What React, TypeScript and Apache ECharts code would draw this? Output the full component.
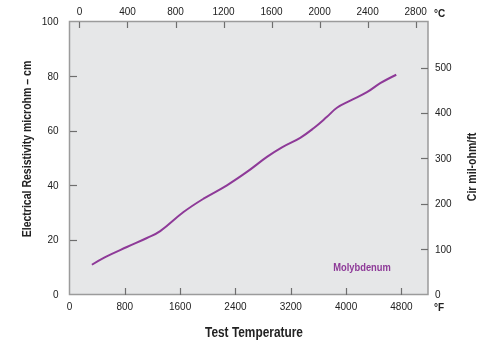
import React, { useEffect, useRef } from "react";
import * as echarts from "echarts";

const tempF = [324, 516, 830, 1120, 1312, 1649, 1939, 2277, 2566, 2856, 3073, 3337, 3530, 3724, 3868, 4061, 4302, 4494, 4726];
const resistivity = [10.9, 13.7, 17.4, 20.7, 23.2, 30.2, 35.1, 40.0, 44.9, 50.4, 53.9, 57.4, 60.9, 65.1, 68.4, 71.0, 74.1, 77.4, 80.5];
const fTicks = [0, 800, 1600, 2400, 3200, 4000, 4800];
const cTicks = [0, 400, 800, 1200, 1600, 2000, 2400, 2800];
const rTicks = [0, 20, 40, 60, 80, 100];
const cirTicks = [0, 100, 200, 300, 400, 500];
const F_MAX = 5185;
const C_MIN = -83;
const C_MAX = 2903;
const R_MAX = 100;
const CIR_MAX = 601.5;
const FONT = "'Liberation Sans', Arial, sans-serif";
const TICK_COLOR = "#6e6e6e";

export default function App() {
  const ref = useRef<HTMLDivElement>(null);
  useEffect(() => {
    const chart = echarts.init(ref.current!, null, { renderer: "svg" });
    const lab = { color: "#222", fontSize: 10, fontFamily: FONT, formatter: (v: number) => String(v) };
    const line = { show: false, onZero: false };
    const noTick = { show: false };
    const texts: any[] = [
      { type: "text", x: 27, y: 149, rotation: Math.PI / 2, scaleX: 0.78, style: { text: "Electrical Resistivity microhm – cm", fontFamily: FONT, fontWeight: "bold", fontSize: 13.5, fill: "#222", align: "center", verticalAlign: "middle" } },
      { type: "text", x: 472, y: 167, rotation: Math.PI / 2, scaleX: 0.78, style: { text: "Cir mil-ohm/ft", fontFamily: FONT, fontWeight: "bold", fontSize: 13.5, fill: "#222", align: "center", verticalAlign: "middle" } },
      { type: "text", x: 254, y: 332, scaleX: 0.82, style: { text: "Test Temperature", fontFamily: FONT, fontWeight: "bold", fontSize: 14.5, fill: "#222", align: "center", verticalAlign: "middle" } },
      { type: "text", x: 434, y: 13, style: { text: "°C", fontFamily: FONT, fontWeight: "bold", fontSize: 10, fill: "#222", align: "left", verticalAlign: "middle" } },
      { type: "text", x: 434, y: 307, style: { text: "°F", fontFamily: FONT, fontWeight: "bold", fontSize: 10, fill: "#222", align: "left", verticalAlign: "middle" } },
      { type: "text", x: 362, y: 267, scaleX: 0.85, style: { text: "Molybdenum", fontFamily: FONT, fontWeight: "bold", fontSize: 11, fill: "#8e3a98", align: "center", verticalAlign: "middle" } },
    ];
    chart.setOption({
      animation: false,
      grid: {
        left: 69.5, right: 61, top: 21.5, bottom: 46.5,
        show: true, backgroundColor: "#e6e7e8", borderColor: "#9b9b9b", borderWidth: 1.5,
      },
      xAxis: [
        {
          type: "value", position: "bottom", min: 0, max: F_MAX,
          axisLine: line, splitLine: { show: false }, axisTick: noTick,
          axisLabel: { ...lab, margin: 7, customValues: fTicks },
        },
        {
          type: "value", position: "top", min: C_MIN, max: C_MAX,
          axisLine: line, splitLine: { show: false }, axisTick: noTick,
          axisLabel: { ...lab, margin: 5, customValues: cTicks },
        },
      ],
      yAxis: [
        {
          type: "value", position: "left", min: 0, max: R_MAX,
          axisLine: line, splitLine: { show: false }, axisTick: noTick,
          axisLabel: { ...lab, margin: 11, customValues: rTicks },
        },
        {
          type: "value", position: "right", min: 0, max: CIR_MAX,
          axisLine: line, splitLine: { show: false }, axisTick: noTick,
          axisLabel: { ...lab, margin: 7, customValues: cirTicks },
        },
      ],
      series: [
        {
          type: "line", xAxisIndex: 0, yAxisIndex: 0, smooth: 0.4, showSymbol: false,
          data: tempF.map((f, i) => [f, resistivity[i]]),
          lineStyle: { color: "#8e3a98", width: 2 },
          itemStyle: { color: "#8e3a98" },
        },
      ],
      graphic: texts,
    });

    const ticks: any[] = [];
    const addTick = (finder: any, value: number[], dx: number, dy: number) => {
      const p = chart.convertToPixel(finder, value) as number[];
      if (!p) return;
      const x = Math.round(p[0]) + (dx === 0 ? 0.5 : 0);
      const y = Math.round(p[1]) + (dy === 0 ? 0.5 : 0);
      ticks.push({
        type: "line", z: 20, silent: true,
        shape: { x1: x, y1: y, x2: x + dx, y2: y + dy },
        style: { stroke: TICK_COLOR, lineWidth: 1.2 },
      });
    };
    fTicks.slice(1).forEach((f) => addTick({ xAxisIndex: 0, yAxisIndex: 0 }, [f, 0], 0, -7));
    rTicks.slice(1, -1).forEach((r) => addTick({ xAxisIndex: 0, yAxisIndex: 0 }, [0, r], 7, 0));
    cTicks.forEach((c) => addTick({ xAxisIndex: 1, yAxisIndex: 0 }, [c, R_MAX], 0, 6));
    cirTicks.slice(1).forEach((v) => addTick({ xAxisIndex: 0, yAxisIndex: 1 }, [F_MAX, v], -7, 0));
    chart.setOption({ graphic: [...texts, ...ticks] });

    return () => chart.dispose();
  }, []);
  return <div ref={ref} style={{ position: "fixed", left: 0, top: 0, width: 489, height: 341 }} />;
}
